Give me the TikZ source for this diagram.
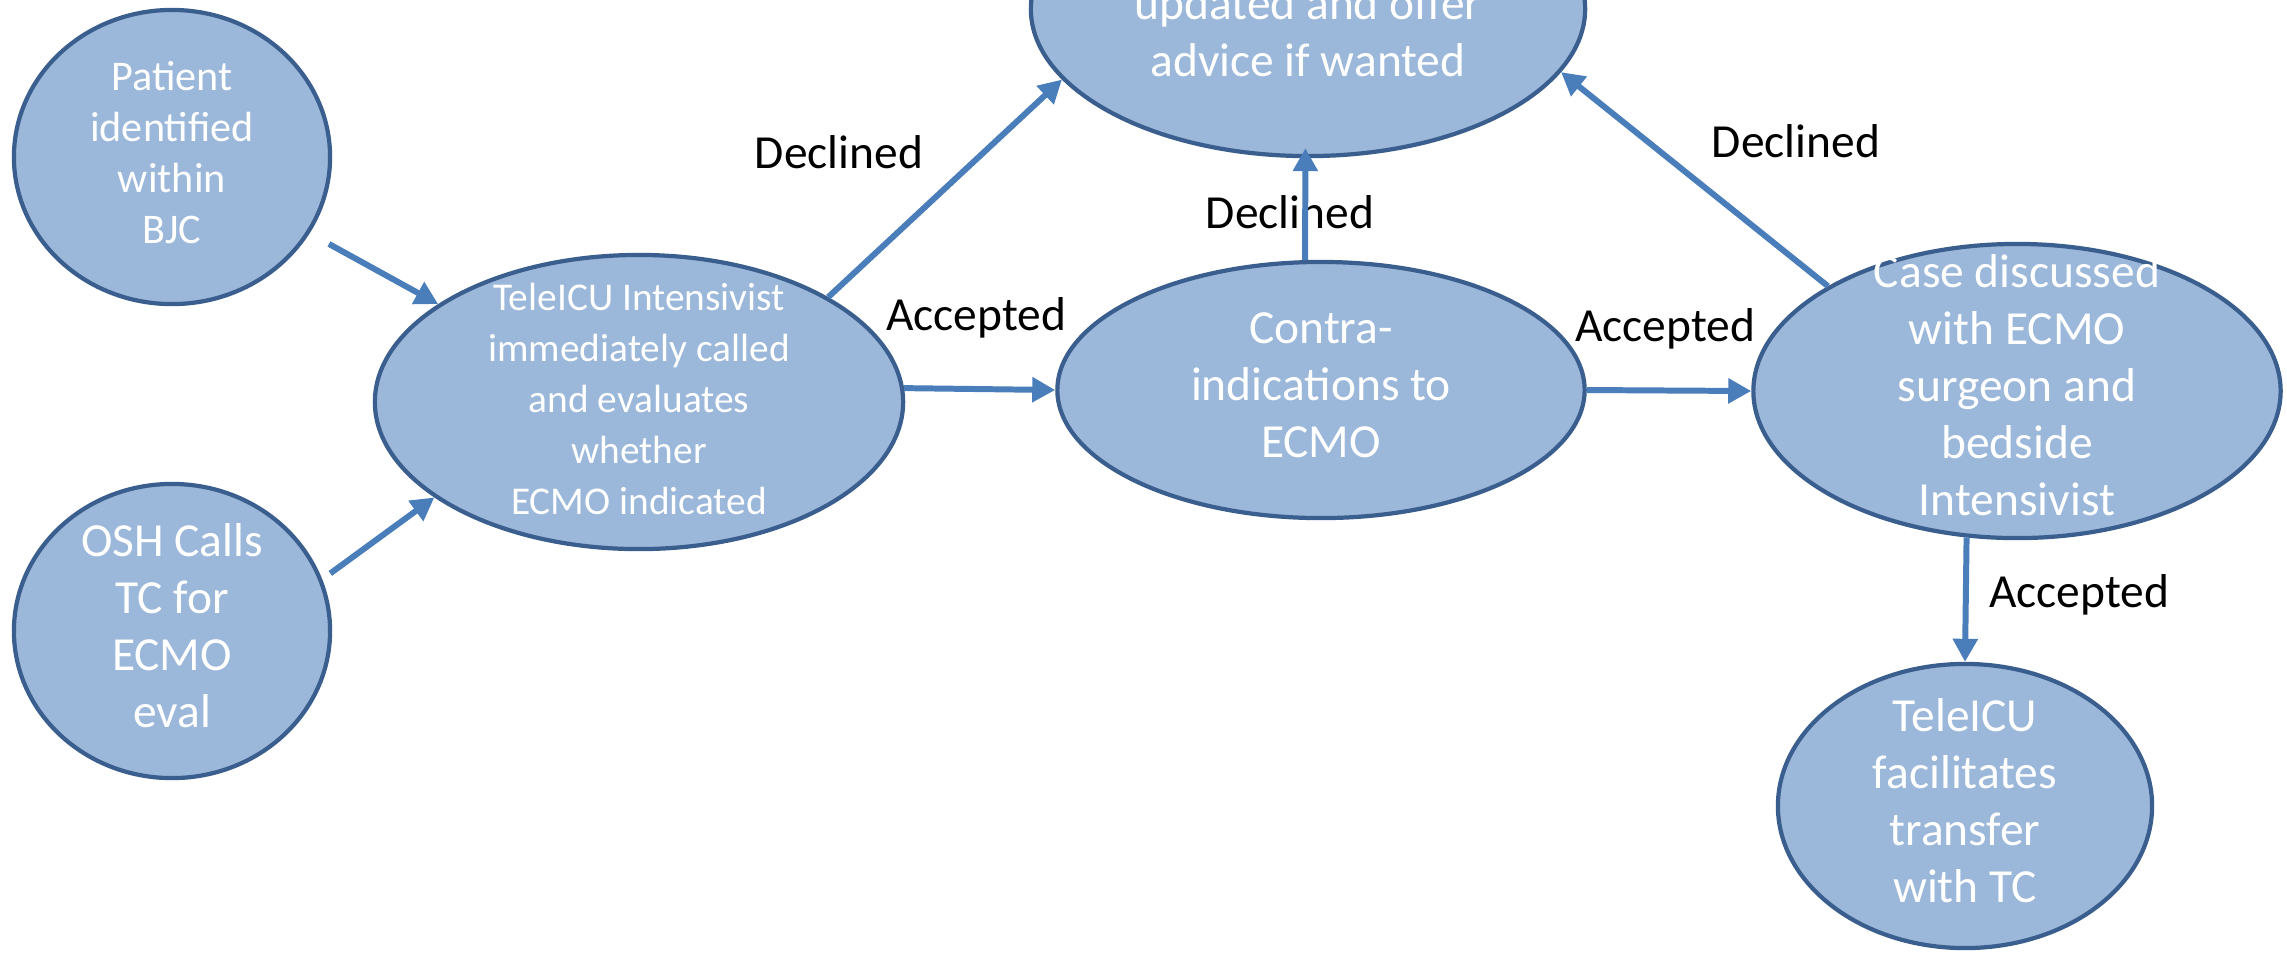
\documentclass[tikz,border=0pt]{standalone}
\usepackage{fontspec}
\setmainfont{Carlito}
\usepackage{tikz}
\usetikzlibrary{shapes.geometric, arrows.meta}
\definecolor{ovalfill}{HTML}{9BB7D9}
\definecolor{ovaldraw}{HTML}{3A5F8E}
\definecolor{arrowblue}{HTML}{4A7EBB}
\newcommand{\bigtext}{\fontsize{13.5}{16.2}\selectfont}
\newcommand{\smalltext}{\fontsize{11.2}{14.5}\selectfont}
\newcommand{\midtext}{\fontsize{12}{14.5}\selectfont}
\newcommand{\ovaltext}[1]{\smash{\makebox[0pt]{\raisebox{-0.25em}{\begin{tabular}{@{}c@{}}#1\end{tabular}}}}}
\tikzstyle{oval} = [ellipse, draw=ovaldraw, fill=ovalfill, line width=1.2pt, inner sep=0pt, text=white, font=\bigtext]
\tikzstyle{arrow} = [draw=arrowblue, line width=1.7pt, -{Triangle[length=0.23cm, width=0.24cm]}]
\tikzstyle{lbl} = [anchor=base, inner sep=0pt, font=\bigtext]

\begin{document}
\begin{tikzpicture}[x=0.01cm, y=-0.01cm]
    \path [use as bounding box, clip] (0,0) rectangle (2287,956);

    \node (patient) [oval, minimum width=3.16cm, minimum height=2.94cm, font=\midtext] at (172,157) {\ovaltext{Patient\\identified\\within\\BJC}};
    \node (osh) [oval, minimum width=3.16cm, minimum height=2.94cm] at (172,631) {\ovaltext{OSH Calls\\TC for\\ECMO\\eval}};
    \node (tele) [oval, minimum width=5.28cm, minimum height=2.94cm, font=\smalltext] at (639,402) {\ovaltext{TeleICU Intensivist\\immediately called\\and evaluates\\whether\\ECMO indicated}};
    \node (advice) [oval, minimum width=5.54cm, minimum height=2.94cm] at (1308,9) {\ovaltext{\mbox{}\\updated and offer\\advice if wanted}};
    \node (contra) [oval, minimum width=5.27cm, minimum height=2.56cm] at (1321,390) {\ovaltext{Contra-\\indications to\\ECMO}};
    \node (case) [oval, minimum width=5.27cm, minimum height=2.94cm] at (2017,391) {\ovaltext{Case discussed\\with ECMO\\surgeon and\\bedside\\Intensivist}};
    \node (transfer) [oval, minimum width=3.74cm, minimum height=2.84cm] at (1965,806) {\ovaltext{TeleICU\\facilitates\\transfer\\with TC}};

    \node (declinedA) [lbl] at (839,168) {Declined};
    \node (acceptedA) [lbl] at (976,330) {Accepted};
    \node (declinedB) [lbl] at (1290,228) {Declined};
    \node (acceptedB) [lbl] at (1665,341) {Accepted};
    \node (declinedC) [lbl] at (1796,157) {Declined};
    \node (acceptedC) [lbl] at (2079,607) {Accepted};

    \draw [arrow, shorten <=2.2mm] (patient.-29) -- (tele.154);
    \draw [arrow, shorten <=1mm] (osh.19) -- (tele.205);
    \draw [arrow] (tele.29) -- (advice.196);
    \draw [arrow] (tele.3) -- (contra.180);
    \draw [arrow, shorten >=-1mm] (contra.97) -- (advice.269);
    \draw [arrow] (contra.0) -- (case.180);
    \draw [arrow] (case.151) -- (advice.-14);
    \draw [arrow] (case.251) -- (transfer.90);
\end{tikzpicture}
\end{document}
